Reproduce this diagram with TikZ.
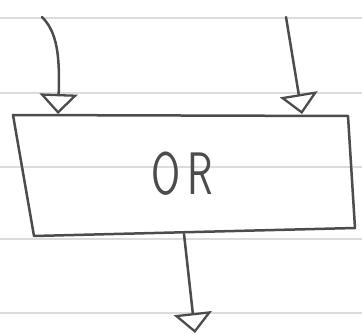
\documentclass[tikz,border=0pt]{standalone}
\usetikzlibrary{arrows.meta}
\definecolor{pencil}{HTML}{4C4C4C}
\definecolor{ruling}{HTML}{DCDCDC}
\begin{document}
\begin{tikzpicture}[x=1pt, y=-1pt,
        pencil/.style={draw=pencil, line width=2.5pt, line join=round, line cap=round},
        flow/.style={pencil, -{Triangle[open, length=20pt, width=38pt, line width=2.3pt]}},
        ruled/.style={draw=ruling, line width=1.3pt},
        gatelabel/.style={text=pencil, inner sep=0pt, xscale=0.7, font=\fontsize{60}{60}\selectfont\sffamily}
    ]
        \path[use as bounding box] (0,0) rectangle (362,334);

        % paper lines
        \foreach \y in {18,93,167,239,313}
            \draw[ruled] (0,\y) -- (362,\y);

        % gate box
        \coordinate (tl) at (13,115);
        \coordinate (tr) at (348,116);
        \coordinate (br) at (355,228);
        \coordinate (bl) at (34,236);
        \draw[pencil] (tl) -- (tr) -- (br) -- (bl) -- cycle;
        \node[gatelabel] (gate) at (182,174) {O\hspace{10pt}R};

        % inputs and output
        \coordinate (inA) at (42,17);
        \coordinate (inB) at (286,17);
        \coordinate (topA) at (58,114);
        \coordinate (topB) at (302,114);
        \coordinate (outS) at (184,234);
        \coordinate (outE) at (195,333);

        \draw[flow] (inA) .. controls (57,32) and (60,55) .. (topA);
        \draw[flow] (inB) -- (topB);
        \draw[flow] (outS) -- (outE);
    \end{tikzpicture}
\end{document}
